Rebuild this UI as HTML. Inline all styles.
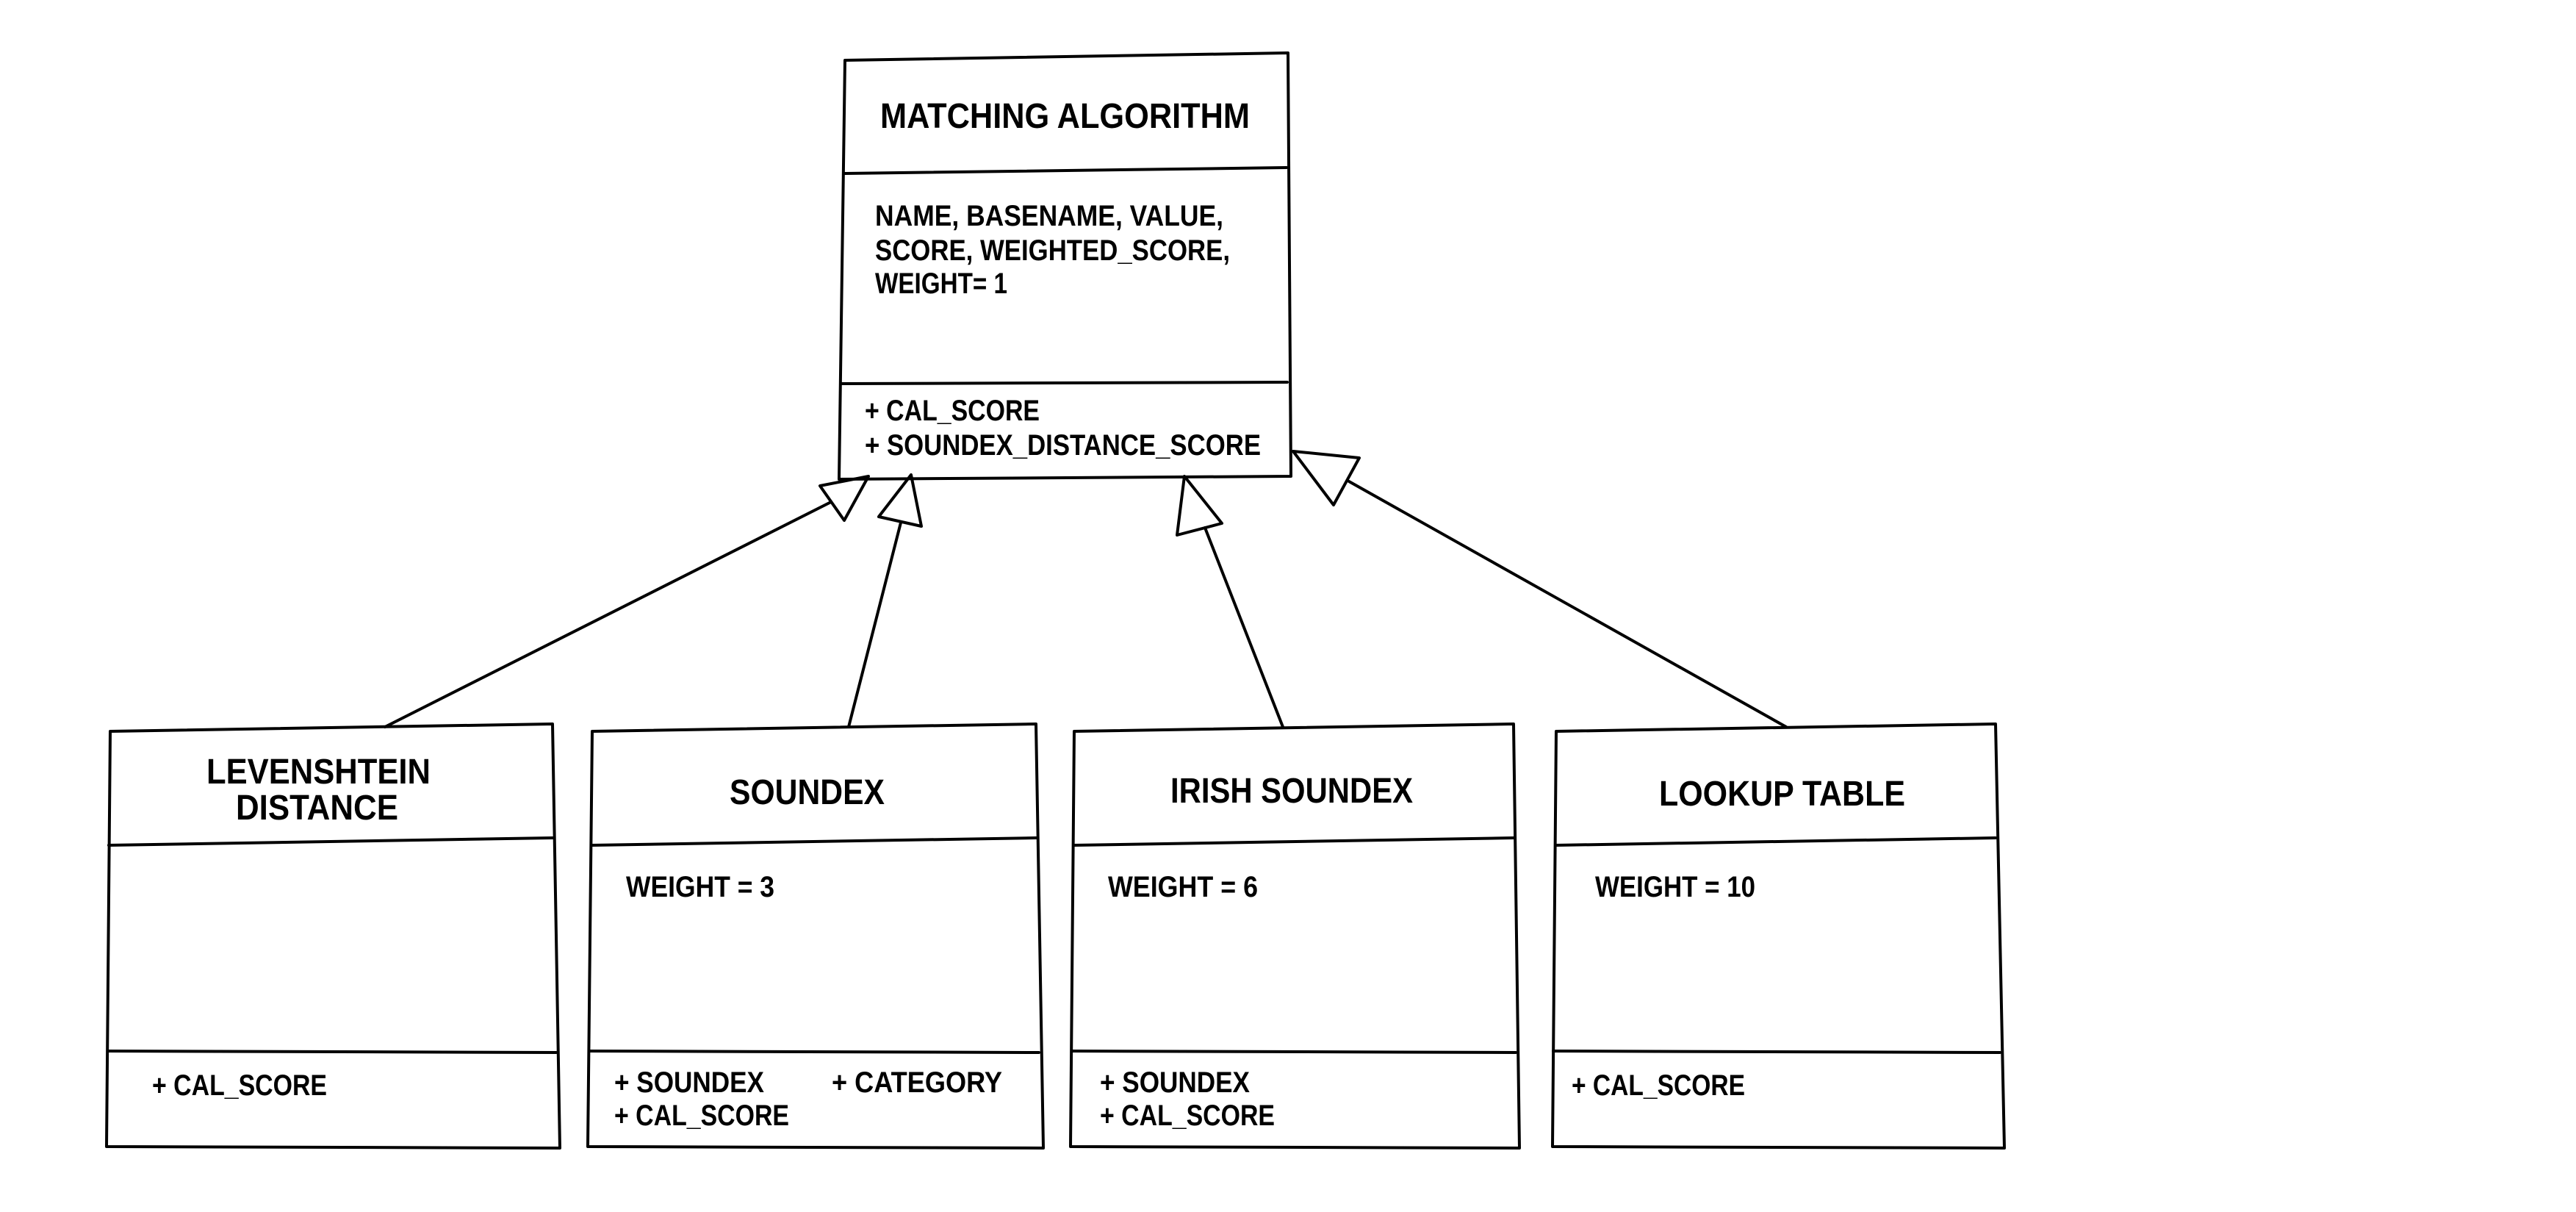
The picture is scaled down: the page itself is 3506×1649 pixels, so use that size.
<!DOCTYPE html>
<html><head><meta charset="utf-8"><style>
html,body{margin:0;padding:0;background:#fff;}
svg{display:block}
text{font-family:"Liberation Sans",sans-serif;fill:#000;}
</style></head><body>
<svg width="3506" height="1649" viewBox="0 0 3506 1649" xmlns="http://www.w3.org/2000/svg">
<g fill="none" stroke="#000" stroke-width="4" stroke-linejoin="round" stroke-linecap="round">
<!-- top box -->
<path d="M1150 82 L1753 72 L1757 648 L1142 652 Z"/>
<path d="M1150 236 L1751 228"/>
<path d="M1145 522 L1752 520"/>
<!-- bottom boxes -->
<path d="M150 995 L752 985 L762 1562 L145 1560 Z"/>
<path d="M148 1150 L752 1140"/>
<path d="M147 1430 L757 1432"/>
<path d="M806 995 L1410 985 L1420 1562 L800 1560 Z"/>
<path d="M806 1150 L1410 1140"/>
<path d="M802 1430 L1414 1432"/>
<path d="M1462 995 L2060 985 L2068 1562 L1457 1560 Z"/>
<path d="M1462 1150 L2060 1140"/>
<path d="M1459 1430 L2063 1432"/>
<path d="M2118 995 L2716 985 L2728 1562 L2113 1560 Z"/>
<path d="M2118 1150 L2716 1140"/>
<path d="M2114 1430 L2722 1432"/>
<!-- connectors -->
<path d="M524 989 L1131 683"/>
<path d="M1116 661 L1182 648 L1149 708 Z"/>
<path d="M1155 989 L1226 711"/>
<path d="M1196 703 L1240 646 L1254 716 Z"/>
<path d="M1746 989 L1640 718"/>
<path d="M1602 728 L1612 648 L1663 712 Z"/>
<path d="M2431 989 L1836 655"/>
<path d="M1850 623 L1760 614 L1815 687 Z"/>
</g>
<g font-weight="bold">
<text x="1198" y="174" font-size="48" textLength="503" lengthAdjust="spacingAndGlyphs">MATCHING ALGORITHM</text>
<text x="1191" y="307" font-size="40" textLength="474" lengthAdjust="spacingAndGlyphs">NAME, BASENAME, VALUE,</text>
<text x="1191" y="354" font-size="40" textLength="483" lengthAdjust="spacingAndGlyphs">SCORE, WEIGHTED_SCORE,</text>
<text x="1191" y="399" font-size="40" textLength="180" lengthAdjust="spacingAndGlyphs">WEIGHT= 1</text>
<text x="1177" y="572" font-size="40" textLength="238" lengthAdjust="spacingAndGlyphs">+ CAL_SCORE</text>
<text x="1177" y="619" font-size="40" textLength="539" lengthAdjust="spacingAndGlyphs">+ SOUNDEX_DISTANCE_SCORE</text>

<text x="281" y="1066" font-size="48" textLength="305" lengthAdjust="spacingAndGlyphs">LEVENSHTEIN</text>
<text x="321" y="1115" font-size="48" textLength="221" lengthAdjust="spacingAndGlyphs">DISTANCE</text>
<text x="207" y="1490" font-size="40" textLength="238" lengthAdjust="spacingAndGlyphs">+ CAL_SCORE</text>

<text x="993" y="1094" font-size="48" textLength="211" lengthAdjust="spacingAndGlyphs">SOUNDEX</text>
<text x="852" y="1220" font-size="40" textLength="202" lengthAdjust="spacingAndGlyphs">WEIGHT = 3</text>
<text x="836" y="1486" font-size="40" textLength="204" lengthAdjust="spacingAndGlyphs">+ SOUNDEX</text>
<text x="1132" y="1486" font-size="40" textLength="232" lengthAdjust="spacingAndGlyphs">+ CATEGORY</text>
<text x="836" y="1531" font-size="40" textLength="238" lengthAdjust="spacingAndGlyphs">+ CAL_SCORE</text>

<text x="1593" y="1092" font-size="48" textLength="330" lengthAdjust="spacingAndGlyphs">IRISH SOUNDEX</text>
<text x="1508" y="1220" font-size="40" textLength="204" lengthAdjust="spacingAndGlyphs">WEIGHT = 6</text>
<text x="1497" y="1486" font-size="40" textLength="204" lengthAdjust="spacingAndGlyphs">+ SOUNDEX</text>
<text x="1497" y="1531" font-size="40" textLength="238" lengthAdjust="spacingAndGlyphs">+ CAL_SCORE</text>

<text x="2258" y="1096" font-size="48" textLength="335" lengthAdjust="spacingAndGlyphs">LOOKUP TABLE</text>
<text x="2171" y="1220" font-size="40" textLength="218" lengthAdjust="spacingAndGlyphs">WEIGHT = 10</text>
<text x="2139" y="1490" font-size="40" textLength="236" lengthAdjust="spacingAndGlyphs">+ CAL_SCORE</text>
</g>
</svg>
</body></html>
